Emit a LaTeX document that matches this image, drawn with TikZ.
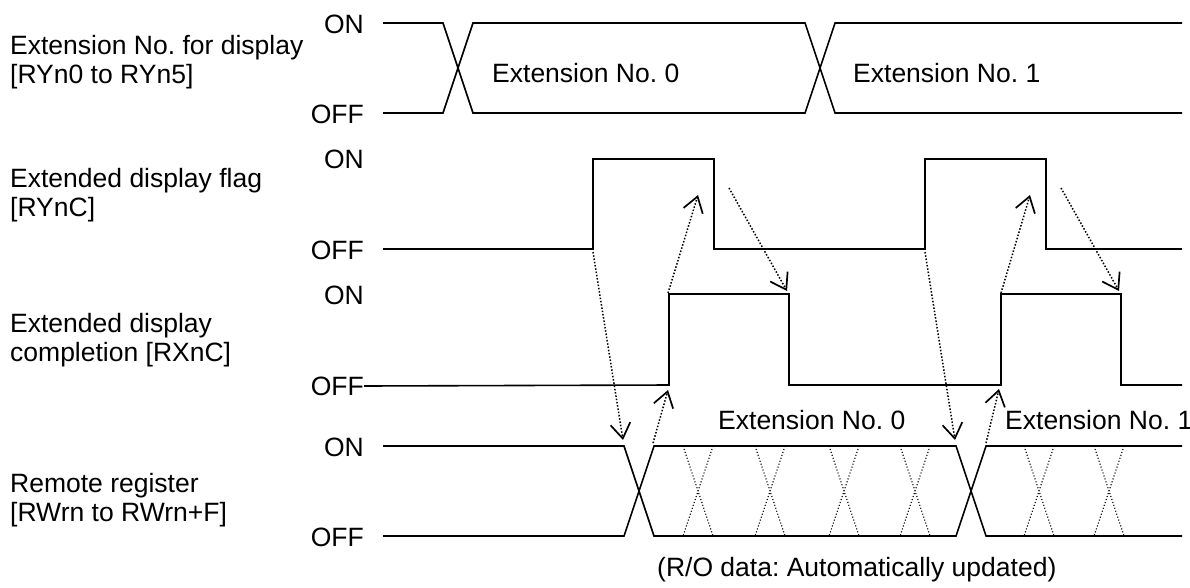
\documentclass[tikz,border=0pt]{standalone}
\usepackage{fontspec}
\setmainfont{Liberation Sans}
\usetikzlibrary{arrows.meta}
\frenchspacing
\begin{document}
\begin{tikzpicture}[x=1pt, y=-1pt, >={Straight Barb[length=15pt,width=20pt,line width=1.7pt]},
	font=\fontsize{26.5}{29}\selectfont,
	sig/.style={line width=1.6pt},
	hint/.style={->, line width=1.5pt, dash pattern=on 1.5pt off 1.8pt},
	seam/.style={line width=1.1pt, dash pattern=on 1.1pt off 2pt},
	lvl/.style={anchor=east, inner sep=0pt},
	rowname/.style={anchor=west, align=left, inner sep=0pt},
	val/.style={anchor=base west, inner sep=0pt}]
	\useasboundingbox (0,0) rectangle (1190,587);
	\node[rowname] (nsel) at (10,62.5) {Extension No. for display\\{[RYn0 to RYn5]}};
	\node[rowname] (nflag) at (10,195.5) {Extended display flag\\{[RYnC]}};
	\node[rowname] (ndone) at (10,340.5) {Extended display\\completion [RXnC]};
	\node[rowname] (nreg) at (10,500.5) {Remote register\\{[RWrn to RWrn+F]}};
	\node[lvl] (on1) at (364,24) {ON};
	\node[lvl] (off1) at (364,114) {OFF};
	\node[lvl] (on2) at (364,159) {ON};
	\node[lvl] (off2) at (364,250) {OFF};
	\node[lvl] (on3) at (364,295) {ON};
	\node[lvl] (off3) at (364,386) {OFF};
	\node[lvl] (on4) at (364,447) {ON};
	\node[lvl] (off4) at (364,537) {OFF};
	\draw[sig] (383,23) -- (443,23) -- (473,113) -- (805,113) -- (835,23) -- (1182,23);
	\draw[sig] (383,113) -- (443,113) -- (473,23) -- (805,23) -- (835,113) -- (1182,113);
	\node[val] (sel0) at (492,82) {Extension No. 0};
	\node[val] (sel1) at (853,82) {Extension No. 1};
	\draw[sig] (383,249) -- (593,249) -- (593,159) -- (714,159) -- (714,249) -- (925,249) -- (925,159) -- (1046,159) -- (1046,249) -- (1182,249);
	\draw[sig] (off3.east) -- (669,385) -- (669,294) -- (789,294) -- (789,385) -- (1001,385) -- (1001,294) -- (1121,294) -- (1121,385) -- (1182,385);
	\draw[sig] (383,446) -- (624,446) -- (654,536) -- (956,536) -- (986,446) -- (1182,446);
	\draw[sig] (383,536) -- (624,536) -- (654,446) -- (956,446) -- (986,536) -- (1182,536);
	\foreach \x in {698,770,844,915,1039,1109}
		\draw[seam] (\x-15,446) -- (\x+15,536) (\x+15,446) -- (\x-15,536);
	\node[val] (reg0) at (718,429) {Extension No. 0};
	\node[val] (reg1) at (1005,429) {Extension No. 1};
	\node[val] (auto) at (657,576) {(R/O data: Automatically updated)};
	\coordinate (fup0) at (593,252);
	\coordinate (rx0) at (623,440);
	\coordinate (rx0e) at (653,443);
	\coordinate (cup0) at (668,390);
	\coordinate (cup0t) at (668,293);
	\coordinate (fmid0) at (698,195);
	\coordinate (fdn0) at (729,188);
	\coordinate (cdn0) at (787,291);
	\coordinate (fup1) at (925,252);
	\coordinate (rx1) at (955,440);
	\coordinate (rx1e) at (986,443);
	\coordinate (cup1) at (999,389);
	\coordinate (cup1t) at (1001,293);
	\coordinate (fmid1) at (1030,195);
	\coordinate (fdn1) at (1061,188);
	\coordinate (cdn1) at (1119,291);
	\draw[hint] (fup0) -- (rx0);
	\draw[hint] (rx0e) -- (cup0);
	\draw[hint] (cup0t) -- (fmid0);
	\draw[hint] (fdn0) -- (cdn0);
	\draw[hint] (fup1) -- (rx1);
	\draw[hint] (rx1e) -- (cup1);
	\draw[hint] (cup1t) -- (fmid1);
	\draw[hint] (fdn1) -- (cdn1);
\end{tikzpicture}
\end{document}
